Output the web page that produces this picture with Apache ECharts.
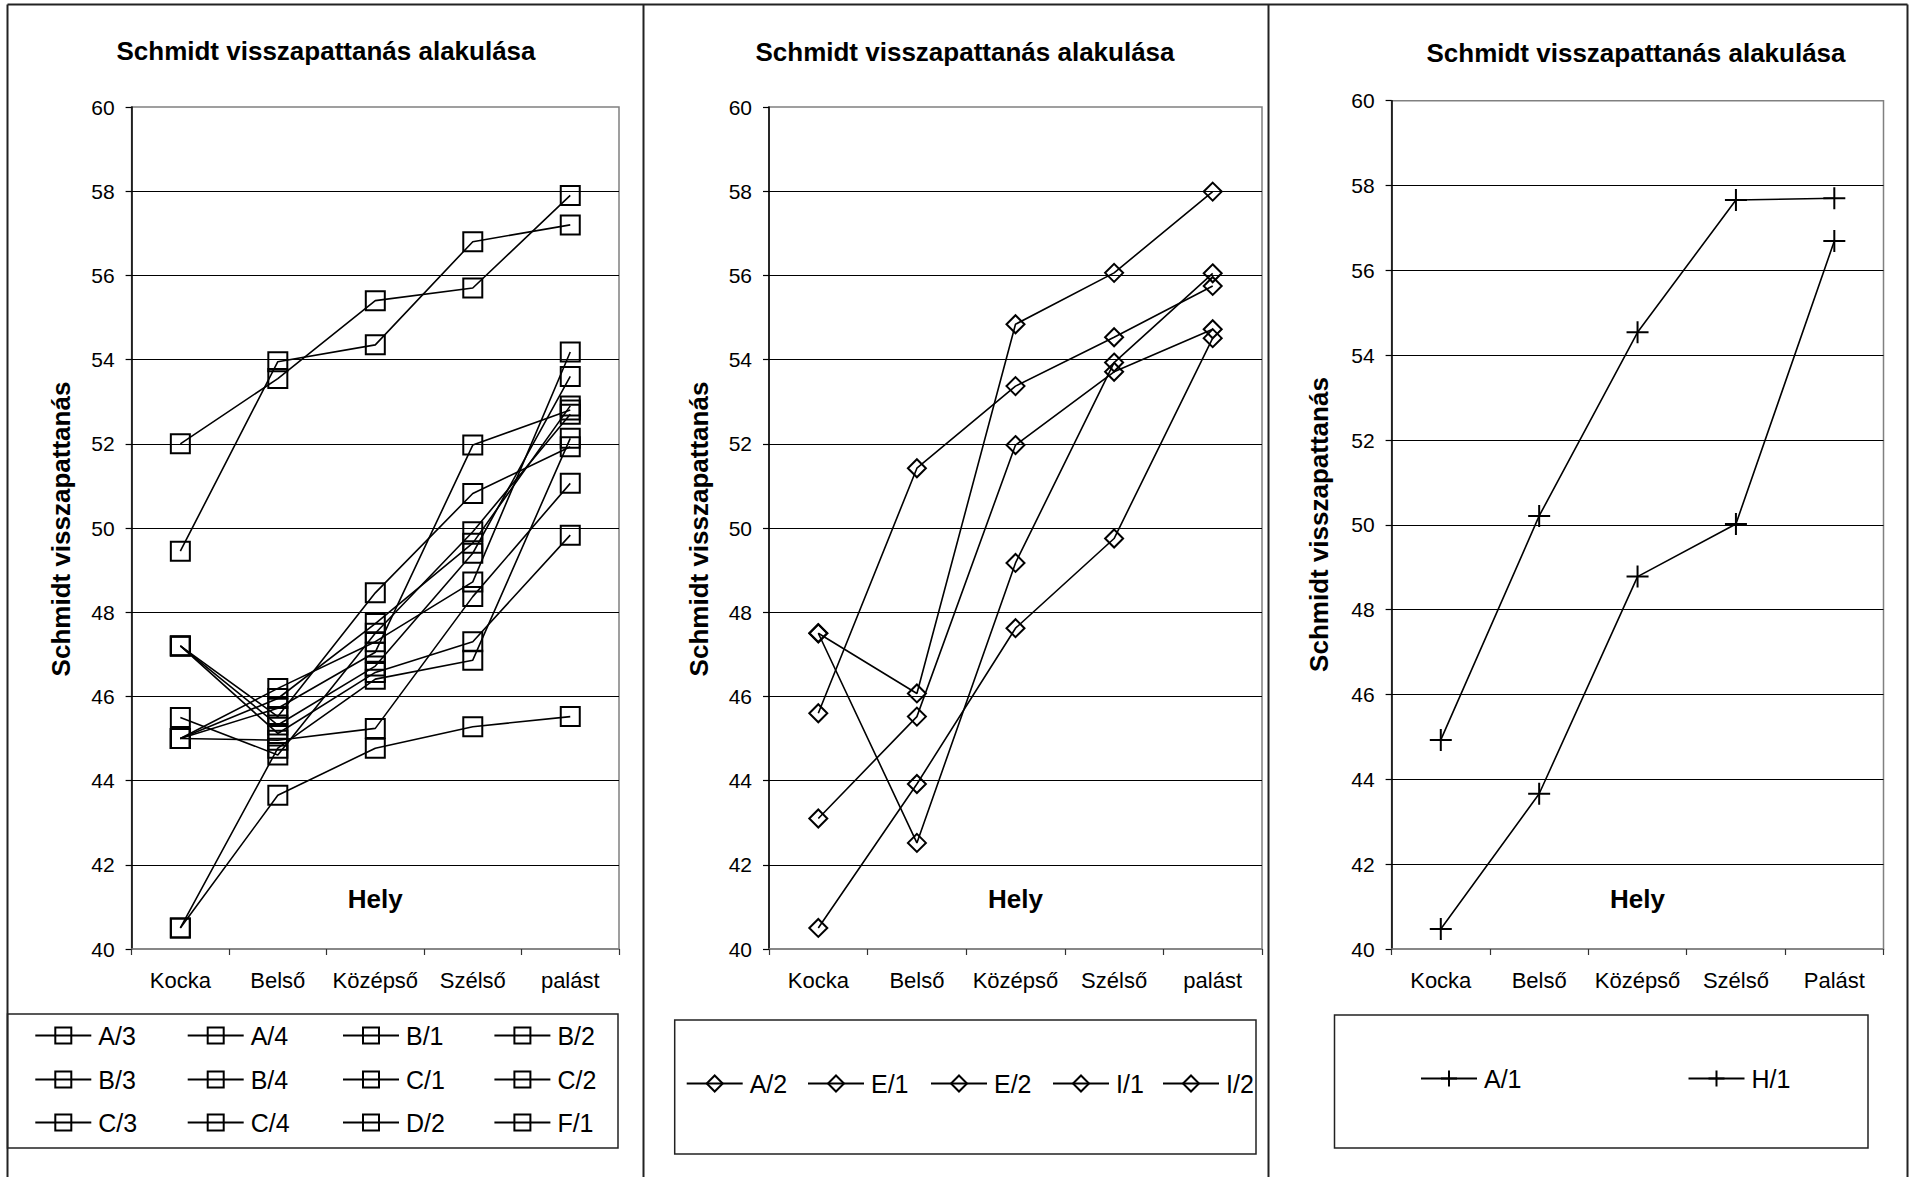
<!DOCTYPE html>
<html>
<head>
<meta charset="utf-8">
<title>Schmidt visszapattanás alakulása</title>
<script src="https://cdn.jsdelivr.net/npm/echarts@6/dist/echarts.min.js"></script>
<style>
  html, body { margin: 0; padding: 0; background: #fff; }
  #chart { width: 1910px; height: 1177px; }
</style>
</head>
<body>
<div id="chart"></div>
<script>
// Measurement locations (x axis categories)
const places = ['Kocka', 'Belső', 'Középső', 'Szélső', 'palást'];
const placesH = ['Kocka', 'Belső', 'Középső', 'Szélső', 'Palást'];

// Value axis range
const yMin = 40;
const yMax = 60;
const yStep = 2;

// Panel 1 – square markers
const namesSq = ['A/3', 'A/4', 'B/1', 'B/2', 'B/3', 'B/4', 'C/1', 'C/2', 'C/3', 'C/4', 'D/2', 'F/1'];
const sqA3 = [52.0, 53.55, 55.4, 55.7, 57.9];
const sqA4 = [49.45, 53.95, 54.35, 56.8, 57.2];
const sqB1 = [40.5, 43.65, 44.77, 45.28, 45.52];
const sqB2 = [45.0, 44.96, 45.24, 48.37, 51.06];
const sqB3 = [40.5, 44.77, 46.41, 46.86, 52.13];
const sqB4 = [45.5, 44.61, 47.5, 49.91, 52.7];
const sqC1 = [47.2, 45.52, 48.46, 50.82, 51.93];
const sqC2 = [47.2, 45.32, 46.72, 49.4, 53.6];
const sqC3 = [47.2, 45.12, 46.57, 47.3, 49.83];
const sqC4 = [45.0, 46.19, 47.3, 48.72, 54.18];
const sqD2 = [45.0, 45.95, 47.73, 49.64, 52.9];
const sqF1 = [45.0, 45.72, 47.05, 51.97, 52.8];

// Panel 2 – diamond markers
const namesDm = ['A/2', 'E/1', 'E/2', 'I/1', 'I/2'];
const dmA2 = [45.6, 51.42, 53.37, 54.53, 55.75];
const dmE1 = [47.5, 46.07, 54.84, 56.06, 57.99];
const dmE2 = [43.1, 45.52, 51.97, 53.71, 54.72];
const dmI1 = [47.5, 42.52, 49.17, 53.93, 56.05];
const dmI2 = [40.5, 43.92, 47.62, 49.75, 54.51];

// Panel 3 – plus markers
const namesPl = ['A/1', 'H/1'];
const plA1 = [44.93, 50.21, 54.54, 57.66, 57.7];
const plH1 = [40.47, 43.66, 48.78, 50.02, 56.69];

const valuesSq = [sqA3, sqA4, sqB1, sqB2, sqB3, sqB4, sqC1, sqC2, sqC3, sqC4, sqD2, sqF1];
const valuesDm = [dmA2, dmE1, dmE2, dmI1, dmI2];
const valuesPl = [plA1, plH1];

const FONT = "'Liberation Sans', Arial, Helvetica, sans-serif";
const TITLE = 'Schmidt visszapattanás alakulása';
const YNAME = 'Schmidt visszapattanás';
const PLUS = 'path://M0,10L20,10M10,0L10,20';

// Plot rectangles of the three panels
const grids = [
  { left: 131.6, top: 107, width: 487.4, height: 842 },
  { left: 769, top: 107, width: 493, height: 842 },
  { left: 1391.6, top: 100.7, width: 491.9, height: 848.3 }
];

function xAxisFor(idx, cats) {
  return {
    type: 'category', gridIndex: idx, data: cats, boundaryGap: true,
    axisLine: { show: true, lineStyle: { color: '#808080', width: 1.5 } },
    axisTick: { show: true, length: 6, lineStyle: { color: '#333', width: 1.2 } },
    axisLabel: { color: '#000', fontSize: 22, margin: 20, interval: 0, fontFamily: FONT },
    splitLine: { show: false },
    name: 'Hely', nameLocation: 'middle', nameGap: -63,
    nameTextStyle: { color: '#000', fontSize: 26, fontWeight: 'bold', fontFamily: FONT }
  };
}

function yAxisFor(idx) {
  return {
    type: 'value', gridIndex: idx, min: yMin, max: yMax, interval: yStep,
    axisLine: { show: true, lineStyle: { color: '#000', width: 1.5 } },
    axisTick: { show: true, length: 6, lineStyle: { color: '#000', width: 1.2 } },
    axisLabel: { color: '#000', fontSize: 21, margin: 17, fontFamily: FONT },
    splitLine: { show: true, showMinLine: false, showMaxLine: false,
                 lineStyle: { color: '#000', width: 1 } }
  };
}

function lineSeries(name, data, idx, symbol, size) {
  return {
    type: 'line', name: name, data: data,
    xAxisIndex: idx, yAxisIndex: idx,
    symbol: symbol, symbolSize: size, showSymbol: true, showAllSymbol: true,
    lineStyle: { color: '#000', width: 1.6 },
    itemStyle: { color: 'rgba(0,0,0,0)', borderColor: '#000', borderWidth: 2 },
    emphasis: { disabled: true },
    silent: true, animation: false, z: 3
  };
}

const series = [];
namesSq.forEach((n, i) => series.push(lineSeries(n, valuesSq[i], 0, 'rect', 19)));
namesDm.forEach((n, i) => series.push(lineSeries(n, valuesDm[i], 1, 'diamond', 18)));
namesPl.forEach((n, i) => series.push(lineSeries(n, valuesPl[i], 2, PLUS, 22)));

// One legend block per entry, laid out in the boxed areas under each plot
const legendSpots = [];
const sqCols = [34.3, 186.7, 342, 493.4];
const sqRows = [1033, 1077, 1120];
namesSq.forEach((n, i) => legendSpots.push({ name: n, x: sqCols[i % 4], y: sqRows[Math.floor(i / 4)] }));
const dmCols = [685.7, 807, 930, 1052, 1162];
namesDm.forEach((n, i) => legendSpots.push({ name: n, x: dmCols[i], y: 1081 }));
const plCols = [1420, 1687.5];
namesPl.forEach((n, i) => legendSpots.push({ name: n, x: plCols[i], y: 1076 }));

const legends = legendSpots.map(s => ({
  data: [s.name], left: s.x, top: s.y - 10, padding: 0,
  orient: 'horizontal', itemWidth: 56, itemHeight: 20, itemGap: 0,
  selectedMode: false,
  textStyle: { color: '#000', fontSize: 25, fontFamily: FONT, padding: [0, 0, 0, 2] }
}));

// Frames, legend boxes, titles and value-axis names
const frame = { stroke: '#222', lineWidth: 2 };
const box = { stroke: '#222', lineWidth: 1.5, fill: 'none' };
const graphics = [
  { type: 'line', shape: { x1: 7.5, y1: 4.5, x2: 1907.5, y2: 4.5 }, style: frame },
  { type: 'line', shape: { x1: 7.5, y1: 4.5, x2: 7.5, y2: 1177 }, style: frame },
  { type: 'line', shape: { x1: 643.5, y1: 4.5, x2: 643.5, y2: 1177 }, style: frame },
  { type: 'line', shape: { x1: 1268.5, y1: 4.5, x2: 1268.5, y2: 1177 }, style: frame },
  { type: 'line', shape: { x1: 1907.5, y1: 4.5, x2: 1907.5, y2: 1177 }, style: frame },
  { type: 'rect', shape: { x: 7.5, y: 1014, width: 610.5, height: 134 }, style: box },
  { type: 'rect', shape: { x: 674.7, y: 1020, width: 581.3, height: 134 }, style: box },
  { type: 'rect', shape: { x: 1334.5, y: 1015, width: 533.5, height: 133 }, style: box }
];
[[326, 51], [965, 52], [1636, 53]].forEach(p => graphics.push({
  type: 'text', x: p[0], y: p[1],
  style: { text: TITLE, fill: '#000', font: 'bold 26px ' + FONT, textAlign: 'center', textVerticalAlign: 'middle' }
}));
[[61, 529], [699, 529], [1319, 524.5]].forEach(p => graphics.push({
  type: 'text', x: p[0], y: p[1], rotation: Math.PI / 2,
  style: { text: YNAME, fill: '#000', font: 'bold 26px ' + FONT, textAlign: 'center', textVerticalAlign: 'middle' }
}));

const chart = echarts.init(document.getElementById('chart'), null, { renderer: 'svg' });
chart.setOption({
  backgroundColor: '#fff',
  animation: false,
  grid: grids.map(g => Object.assign({ show: true, borderColor: '#808080', borderWidth: 1.5, backgroundColor: 'transparent' }, g)),
  xAxis: [xAxisFor(0, places), xAxisFor(1, places), xAxisFor(2, placesH)],
  yAxis: [yAxisFor(0), yAxisFor(1), yAxisFor(2)],
  legend: legends,
  graphic: { elements: graphics },
  series: series
});
</script>
</body>
</html>
